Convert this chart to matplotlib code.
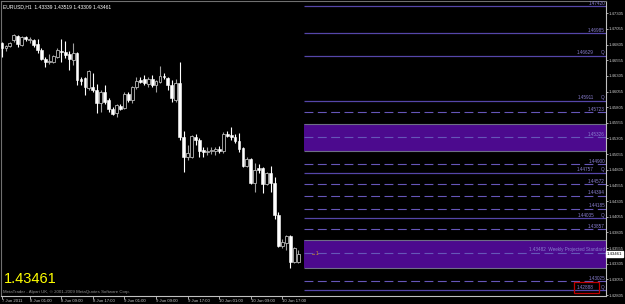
import matplotlib
matplotlib.use("Agg")
import matplotlib.pyplot as plt
from matplotlib.patches import Rectangle
import numpy as np

plt.rcParams['font.family'] = ['Liberation Sans', 'DejaVu Sans']

# EURUSD H1 candles
opens = [1.4683, 1.4675, 1.4678, 1.4688, 1.4694, 1.4680, 1.4692, 1.4688, 1.4688, 1.4681,
         1.4672, 1.4657, 1.4653, 1.4653, 1.4661, 1.4670, 1.4669, 1.4665, 1.4656, 1.4667,
         1.4625, 1.4627, 1.4611, 1.4613, 1.4608, 1.4587, 1.4605, 1.4592, 1.4578, 1.4571,
         1.4582, 1.4579, 1.4602, 1.4592, 1.4613, 1.4624, 1.4625, 1.4617, 1.4625, 1.4616,
         1.4621, 1.4630, 1.4627, 1.4616, 1.4592, 1.4619, 1.4533, 1.4501, 1.4501, 1.4533,
         1.4528, 1.4512, 1.4509, 1.4511, 1.4511, 1.4514, 1.4511, 1.4538, 1.4536, 1.4533,
         1.4527, 1.4515, 1.4487, 1.4498, 1.4459, 1.4483, 1.4483, 1.4458, 1.4475, 1.4459,
         1.4409, 1.4359, 1.4364, 1.4375, 1.4333, 1.43339]
highs = [1.4685, 1.4680, 1.4685, 1.4697, 1.4696, 1.4694, 1.4694, 1.4692, 1.4689, 1.4689,
         1.4675, 1.4661, 1.4665, 1.4664, 1.4675, 1.4689, 1.4686, 1.4670, 1.4683, 1.4669,
         1.4629, 1.4629, 1.4640, 1.4635, 1.4617, 1.4608, 1.4616, 1.4595, 1.4581, 1.4586,
         1.4586, 1.4605, 1.4605, 1.4614, 1.4629, 1.4629, 1.4632, 1.4629, 1.4632, 1.4624,
         1.4646, 1.4635, 1.4629, 1.4624, 1.4625, 1.4653, 1.4543, 1.4520, 1.4536, 1.4538,
         1.4531, 1.4517, 1.4517, 1.4517, 1.4517, 1.4519, 1.4541, 1.4543, 1.4549, 1.4538,
         1.4539, 1.4517, 1.4501, 1.4499, 1.4491, 1.4490, 1.4485, 1.4477, 1.4487, 1.4469,
         1.4413, 1.4370, 1.4377, 1.4377, 1.4357, 1.43519]
lows = [1.4661, 1.4670, 1.4677, 1.4685, 1.4677, 1.4678, 1.4686, 1.4683, 1.4677, 1.4667,
        1.4656, 1.4645, 1.4649, 1.4651, 1.4659, 1.4653, 1.4659, 1.4640, 1.4648, 1.4616,
        1.4616, 1.4600, 1.4608, 1.4605, 1.4571, 1.4573, 1.4586, 1.4573, 1.4568, 1.4565,
        1.4576, 1.4578, 1.4589, 1.4587, 1.4610, 1.4619, 1.4616, 1.4613, 1.4613, 1.4605,
        1.4619, 1.4625, 1.4608, 1.4589, 1.4589, 1.4528, 1.4477, 1.4496, 1.4499, 1.4520,
        1.4501, 1.4501, 1.4504, 1.4506, 1.4504, 1.4507, 1.4507, 1.4533, 1.4528, 1.4523,
        1.4509, 1.4485, 1.4485, 1.4458, 1.4445, 1.4475, 1.4444, 1.4456, 1.4445, 1.4402,
        1.4357, 1.4356, 1.4353, 1.4324, 1.4332, 1.43309]
closes = [1.4675, 1.4678, 1.4683, 1.4696, 1.4681, 1.4692, 1.4689, 1.4689, 1.4680, 1.4672,
          1.4657, 1.4653, 1.4654, 1.4662, 1.4672, 1.4669, 1.4664, 1.4657, 1.4667, 1.4624,
          1.4622, 1.4613, 1.4638, 1.4608, 1.4587, 1.4605, 1.4589, 1.4578, 1.4570, 1.4584,
          1.4578, 1.4602, 1.4592, 1.4613, 1.4622, 1.4621, 1.4619, 1.4625, 1.4616, 1.4622,
          1.4630, 1.4629, 1.4616, 1.4595, 1.4619, 1.4533, 1.4501, 1.4507, 1.4535, 1.4528,
          1.4511, 1.4509, 1.4511, 1.4512, 1.4514, 1.4511, 1.4538, 1.4535, 1.4533, 1.4527,
          1.4514, 1.4487, 1.4498, 1.4459, 1.4480, 1.4480, 1.4458, 1.4475, 1.4459, 1.4409,
          1.4359, 1.4365, 1.4375, 1.4333, 1.4356, 1.43461]

time_labels = ["7 Jun 2011", "8 Jun 01:00", "8 Jun 09:00", "8 Jun 17:00", "9 Jun 01:00",
               "9 Jun 09:00", "9 Jun 17:00", "10 Jun 01:00", "10 Jun 09:00", "10 Jun 17:00"]
time_label_bars = [0, 7, 15, 23, 31, 39, 47, 55, 63, 71]

# levels drawn in the shifted area
solid_levels = [1.47420, 1.46985, 1.46629, 1.45911, 1.44757, 1.44035, 1.42888]
solid_q = [False, False, True, True, True, True, True]
dashed_levels = [1.45723, 1.45326, 1.44900, 1.44572, 1.44394, 1.44185, 1.43857, 1.43482, 1.43025]
dashed_names = ["", "", "", "", "", "", "", "Weekly Projected Standard", ""]
zones = [(1.45112, 1.45535), (1.43241, 1.43683)]

price_ticks = [1.42805 + 0.0025 * k for k in range(19)]
last_price = 1.43461
title = "EURUSD,H1  1.43339 1.43519 1.43309 1.43461"

W, H = 625, 304
fig = plt.figure(figsize=(W / 100, H / 100), dpi=100, facecolor="black")
ax = fig.add_axes([1 / W, 8 / H, 605 / W, 295 / H], facecolor="black")

bar_px = 3.95
xmin = -0.25
xmax = xmin + 605 / bar_px
ax.set_xlim(xmin, xmax)
ax.set_ylim(1.42790, 1.47500)

def px2x(px):
    return xmin + (px - 1) / bar_px

small = 3.3

# candles
n = len(opens)
x = np.arange(n)
o = np.array(opens); c = np.array(closes)
bear = c < o
ax.vlines(x[bear], np.array(lows)[bear], np.array(highs)[bear], color="white", lw=0.8, zorder=3)
ax.vlines(x[~bear], np.array(lows)[~bear], np.array(highs)[~bear], color="#a0a0a0", lw=0.8, zorder=3)
bot = np.minimum(o, c)
hgt = np.maximum(np.abs(c - o), 0.00004)
ax.bar(x[bear], hgt[bear], bottom=bot[bear], width=0.72, color="white",
       edgecolor="white", lw=0.4, zorder=4)
ax.bar(x[~bear], hgt[~bear], bottom=bot[~bear], width=0.72, color="black",
       edgecolor="#b8b8b8", lw=0.6, zorder=4)

# right area: zones and levels
x0 = px2x(304)
for lo, hi in zones:
    ax.add_patch(Rectangle((x0, lo), xmax - x0, hi - lo, facecolor="#4c0a8e",
                           edgecolor="none", zorder=1))
    ax.hlines([lo, hi], x0, xmax, color="#6e6e86", lw=0.8, zorder=2)

lab_col = "#8a7fd0"
for lv, q in zip(solid_levels, solid_q):
    ax.hlines(lv, x0, xmax, color="#5546a8", lw=0.9, zorder=2)
    xe = px2x(594) if q else px2x(605)
    ax.text(xe, lv + 0.00005, f"{lv:.5f}", color=lab_col, fontsize=small, ha="right",
            va="bottom", zorder=5, clip_on=True)
    if q:
        ax.text(px2x(603), lv + 0.00005, "Q", color=lab_col, fontsize=small, ha="center",
                va="bottom", zorder=5)

for lv, name in zip(dashed_levels, dashed_names):
    ax.hlines(lv, x0, xmax, color="#6656b8", lw=0.8, linestyles=(0, (8, 4)), zorder=2)
    txt = f"{lv:.5f}" + (f"  {name}" if name else "")
    ax.text(px2x(605), lv + 0.00005, txt, color=lab_col, fontsize=small, ha="right",
            va="bottom", zorder=5, clip_on=True)

# red box around the lowest level label
ax.add_patch(Rectangle((px2x(574), 1.42840), px2x(599) - px2x(574), 0.00180,
                       facecolor="none", edgecolor="#c00000", lw=0.9, zorder=6))

ax.text(px2x(311), last_price, "→1", color="#d4a020", fontsize=3.5, ha="left",
        va="center", zorder=5)

# axes styling
for s in ["left", "top"]:
    ax.spines[s].set_color("#707070")
    ax.spines[s].set_linewidth(0.8)
for s in ["right", "bottom"]:
    ax.spines[s].set_color("#c0c0c0")
    ax.spines[s].set_linewidth(0.8)

ax.yaxis.tick_right()
ax.set_yticks(price_ticks)
ax.set_yticklabels([f"{t:.5f}" for t in price_ticks])
ax.tick_params(axis="y", colors="#c8c8c8", labelsize=3.05, length=1.5, width=0.6, pad=0.5)
ax.set_xticks(time_label_bars)
ax.set_xticklabels(time_labels)
ax.tick_params(axis="x", colors="#c8c8c8", labelsize=3.1, length=2, width=0.6, pad=0.3)
for lbl in ax.get_xticklabels():
    lbl.set_ha("left")

ax.annotate(f"{last_price:.5f}", xy=(1.0, last_price), xycoords=("axes fraction", "data"),
            xytext=(0.8, 0), textcoords="offset points", ha="left", va="center",
            fontsize=3.05, color="black", zorder=10, annotation_clip=False,
            bbox=dict(boxstyle="square,pad=0.15", facecolor="white", edgecolor="white"))

ax.text(0.004, 0.988, title, transform=ax.transAxes, color="white", fontsize=3.6,
        ha="left", va="top")
ax.text(0.004, 0.035, "1.43461", transform=ax.transAxes, color="#ffff00", fontsize=10.5,
        ha="left", va="bottom")
ax.text(0.004, 0.006, "MetaTrader - Alpari UK, © 2001-2009 MetaQuotes Software Corp.",
        transform=ax.transAxes, color="#909090", fontsize=3.2, ha="left", va="bottom")

fig.savefig("out.png", dpi=100, facecolor="black")
